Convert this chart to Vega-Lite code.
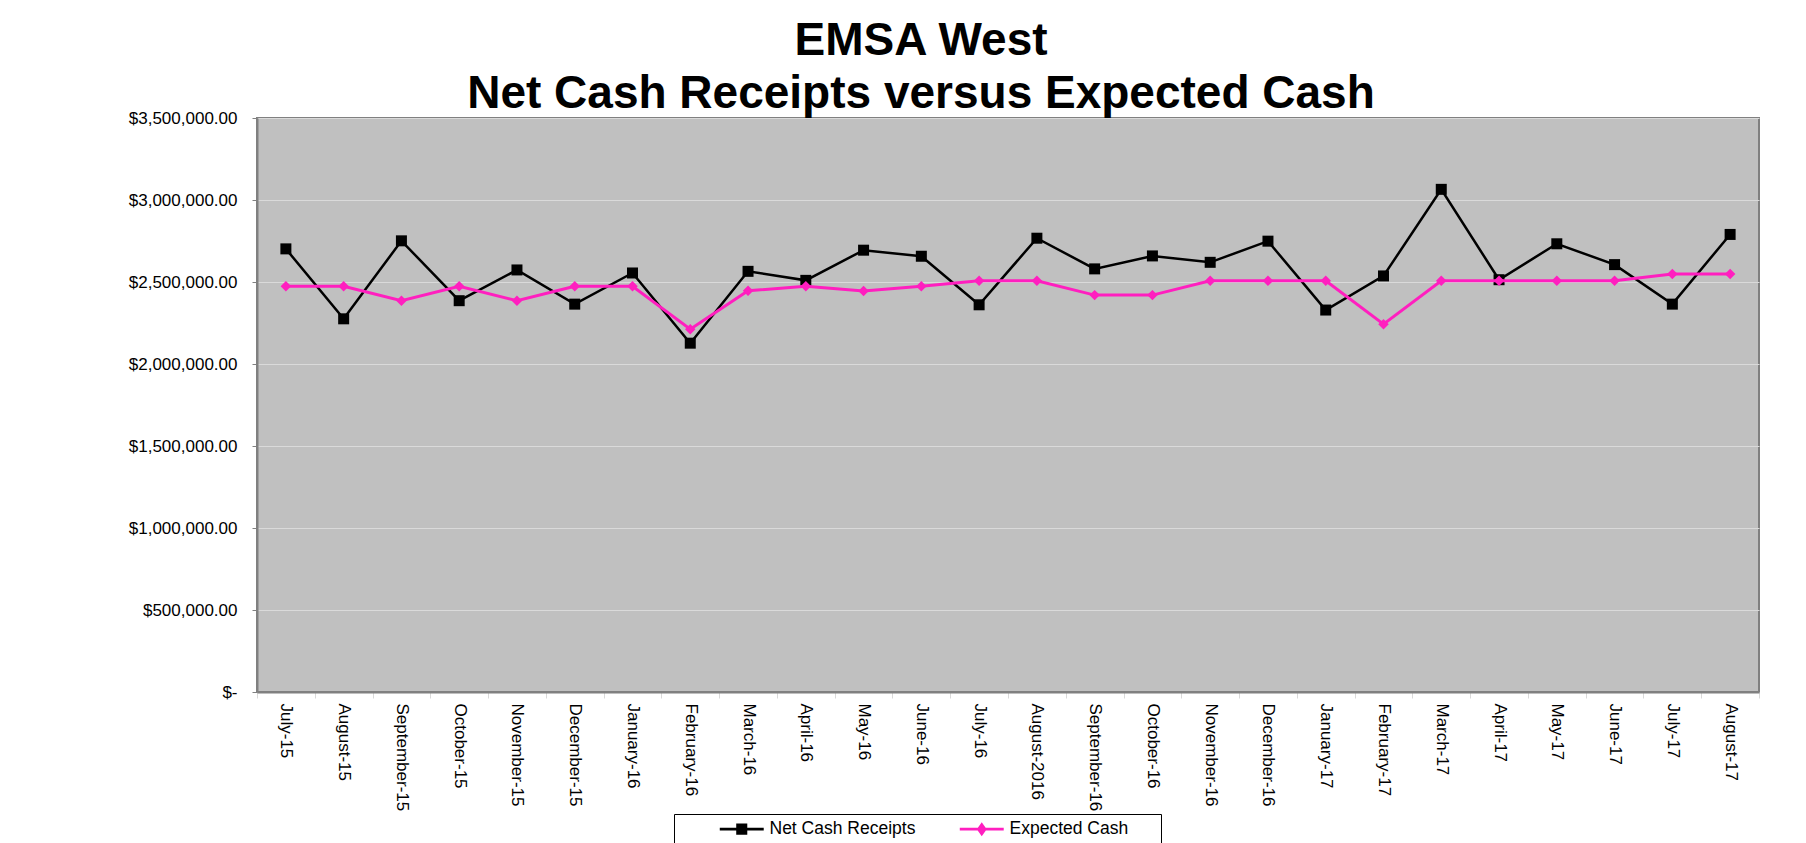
{
  "$schema": "https://vega.github.io/schema/vega-lite/v6.json",
  "width": 1502,
  "height": 574,
  "autosize": {"type": "none"},
  "padding": {"left": 257, "top": 118, "right": 47, "bottom": 151},
  "background": "white",
  "config": {
    "font": "Liberation Sans",
    "view": {"fill": "#c0c0c0", "stroke": "#808080", "strokeWidth": 2},
    "axis": {"labelFont": "Liberation Sans", "labelFontSize": 17, "labelColor": "#000000"}
  },
  "title": {
    "text": ["EMSA West", "Net Cash Receipts versus Expected Cash"],
    "font": "Liberation Sans",
    "fontSize": 46,
    "fontWeight": "bold",
    "color": "#000000",
    "lineHeight": 53,
    "anchor": "middle",
    "dx": -87,
    "offset": -9
  },
  "data": {
    "values": [
      {"month": "July-15", "series": "Net Cash Receipts", "value": 2702000},
      {"month": "August-15", "series": "Net Cash Receipts", "value": 2275500},
      {"month": "September-15", "series": "Net Cash Receipts", "value": 2751000},
      {"month": "October-15", "series": "Net Cash Receipts", "value": 2386000},
      {"month": "November-15", "series": "Net Cash Receipts", "value": 2573500},
      {"month": "December-15", "series": "Net Cash Receipts", "value": 2365000},
      {"month": "January-16", "series": "Net Cash Receipts", "value": 2555000},
      {"month": "February-16", "series": "Net Cash Receipts", "value": 2127000},
      {"month": "March-16", "series": "Net Cash Receipts", "value": 2565000},
      {"month": "April-16", "series": "Net Cash Receipts", "value": 2510000},
      {"month": "May-16", "series": "Net Cash Receipts", "value": 2694000},
      {"month": "June-16", "series": "Net Cash Receipts", "value": 2657000},
      {"month": "July-16", "series": "Net Cash Receipts", "value": 2361000},
      {"month": "August-2016", "series": "Net Cash Receipts", "value": 2767000},
      {"month": "September-16", "series": "Net Cash Receipts", "value": 2580000},
      {"month": "October-16", "series": "Net Cash Receipts", "value": 2659000},
      {"month": "November-16", "series": "Net Cash Receipts", "value": 2620000},
      {"month": "December-16", "series": "Net Cash Receipts", "value": 2749000},
      {"month": "January-17", "series": "Net Cash Receipts", "value": 2329000},
      {"month": "February-17", "series": "Net Cash Receipts", "value": 2537000},
      {"month": "March-17", "series": "Net Cash Receipts", "value": 3065000},
      {"month": "April-17", "series": "Net Cash Receipts", "value": 2514000},
      {"month": "May-17", "series": "Net Cash Receipts", "value": 2733000},
      {"month": "June-17", "series": "Net Cash Receipts", "value": 2606000},
      {"month": "July-17", "series": "Net Cash Receipts", "value": 2365000},
      {"month": "August-17", "series": "Net Cash Receipts", "value": 2790000},
      {"month": "July-15", "series": "Expected Cash", "value": 2473500},
      {"month": "August-15", "series": "Expected Cash", "value": 2473500},
      {"month": "September-15", "series": "Expected Cash", "value": 2386000},
      {"month": "October-15", "series": "Expected Cash", "value": 2473500},
      {"month": "November-15", "series": "Expected Cash", "value": 2386000},
      {"month": "December-15", "series": "Expected Cash", "value": 2473500},
      {"month": "January-16", "series": "Expected Cash", "value": 2473500},
      {"month": "February-16", "series": "Expected Cash", "value": 2212000},
      {"month": "March-16", "series": "Expected Cash", "value": 2447000},
      {"month": "April-16", "series": "Expected Cash", "value": 2473500},
      {"month": "May-16", "series": "Expected Cash", "value": 2445000},
      {"month": "June-16", "series": "Expected Cash", "value": 2473500},
      {"month": "July-16", "series": "Expected Cash", "value": 2508000},
      {"month": "August-2016", "series": "Expected Cash", "value": 2508000},
      {"month": "September-16", "series": "Expected Cash", "value": 2420000},
      {"month": "October-16", "series": "Expected Cash", "value": 2420000},
      {"month": "November-16", "series": "Expected Cash", "value": 2508000},
      {"month": "December-16", "series": "Expected Cash", "value": 2508000},
      {"month": "January-17", "series": "Expected Cash", "value": 2508000},
      {"month": "February-17", "series": "Expected Cash", "value": 2243000},
      {"month": "March-17", "series": "Expected Cash", "value": 2508000},
      {"month": "April-17", "series": "Expected Cash", "value": 2508000},
      {"month": "May-17", "series": "Expected Cash", "value": 2508000},
      {"month": "June-17", "series": "Expected Cash", "value": 2508000},
      {"month": "July-17", "series": "Expected Cash", "value": 2549000},
      {"month": "August-17", "series": "Expected Cash", "value": 2549000}
    ]
  },
  "encoding": {
    "x": {
      "field": "month",
      "type": "ordinal",
      "sort": null,
      "scale": {"type": "band", "paddingInner": 0, "paddingOuter": 0},
      "axis": {
        "title": null,
        "labelAngle": 90,
        "labelAlign": "left",
        "labelBaseline": "middle",
        "labelPadding": 5,
        "tickBand": "extent",
        "tickSize": 6,
        "tickColor": "#d9d9d9",
        "domainColor": "#808080",
        "domainWidth": 2,
        "grid": false
      }
    },
    "y": {
      "field": "value",
      "type": "quantitative",
      "scale": {"domain": [0, 3500000], "nice": false, "zero": true},
      "axis": {
        "title": null,
        "values": [0, 500000, 1000000, 1500000, 2000000, 2500000, 3000000, 3500000],
        "labelExpr": "datum.value == 0 ? '$-\u00a0\u00a0' : format(datum.value, '$,.2f')",
        "labelPadding": 15,
        "tickSize": 5,
        "tickColor": "#808080",
        "domainColor": "#808080",
        "domainWidth": 2,
        "grid": true,
        "gridColor": "#dadada",
        "gridWidth": 1
      }
    },
    "color": {
      "field": "series",
      "type": "nominal",
      "scale": {"domain": ["Net Cash Receipts", "Expected Cash"], "range": ["#000000", "#ff1fbf"]},
      "legend": {
        "title": null,
        "orient": "none",
        "direction": "horizontal",
        "legendX": 417,
        "legendY": 696,
        "padding": 6,
        "strokeColor": "#000000",
        "fillColor": "#ffffff",
        "labelFont": "Liberation Sans",
        "labelFontSize": 17.5,
        "labelColor": "#000000",
        "labelLimit": 300,
        "symbolSize": 196,
        "symbolOffset": 53,
        "labelOffset": 19,
        "columnPadding": 4,
        "symbolStrokeWidth": 0,
        "labelExpr": "datum.label == 'Expected Cash' ? datum.label + '\u2800\u2800' : datum.label",
        "encode": {
          "symbols": {
            "update": {
              "shape": {"signal": "datum.value === 'Net Cash Receipts' ? 'M-3.14,-0.18H3.14V0.18H-3.14Z M-0.79,-0.79H0.79V0.79H-0.79Z' : 'M-3.14,-0.21H3.14V0.21H-3.14Z M0,-1L0.71,0L0,1L-0.71,0Z'"},
              "fill": {"signal": "datum.value === 'Net Cash Receipts' ? '#000000' : '#ff1fbf'"},
              "stroke": {"value": "transparent"},
              "opacity": {"value": 1}
            }
          }
        }
      }
    }
  },
  "layer": [
    {
      "transform": [{"filter": "datum.series === 'Net Cash Receipts'"}],
      "mark": {"type": "line", "strokeWidth": 2.5}
    },
    {
      "transform": [{"filter": "datum.series === 'Net Cash Receipts'"}],
      "mark": {"type": "point", "shape": "square", "filled": true, "size": 121, "opacity": 1}
    },
    {
      "transform": [{"filter": "datum.series === 'Expected Cash'"}],
      "mark": {"type": "line", "strokeWidth": 3}
    },
    {
      "transform": [{"filter": "datum.series === 'Expected Cash'"}],
      "mark": {"type": "point", "shape": "diamond", "filled": true, "size": 110, "opacity": 1}
    }
  ]
}
